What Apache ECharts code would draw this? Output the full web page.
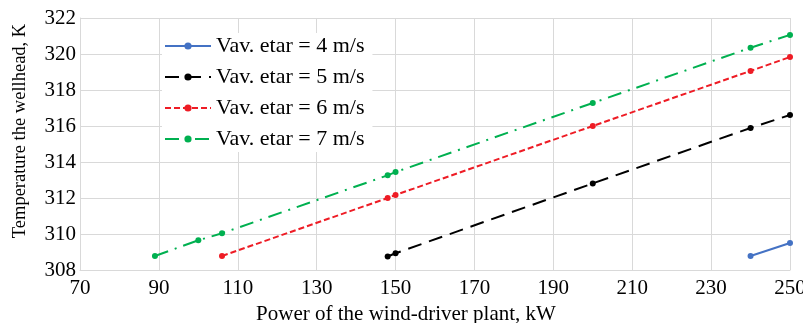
<!DOCTYPE html>
<html><head><meta charset="utf-8">
<script src="https://cdn.jsdelivr.net/npm/echarts@6/dist/echarts.min.js"></script>
<style>html,body{margin:0;padding:0;background:#fff}#c{width:803px;height:323px}</style>
</head><body><div id="c"></div>
<script>
const seriesNames = ["Vav. etar = 4 m/s","Vav. etar = 5 m/s","Vav. etar = 6 m/s","Vav. etar = 7 m/s"];
const power4 = [240, 250];
const temp4 = [308.78, 309.5];
const power5 = [148, 150, 200, 240, 250];
const temp5 = [308.75, 308.93, 312.81, 315.89, 316.61];
const power6 = [106, 148, 150, 200, 240, 250];
const temp6 = [308.78, 312.0, 312.17, 316.0, 319.06, 319.83];
const power7 = [89, 100, 106, 148, 150, 200, 240, 250];
const temp7 = [308.78, 309.65, 310.04, 313.26, 313.44, 317.28, 320.35, 321.06];
const xTicks = [70, 90, 110, 130, 150, 170, 190, 210, 230, 250];
const yTicks = [308, 310, 312, 314, 316, 318, 320, 322];

const zip = (xs, ys) => xs.map((x, i) => [x, ys[i]]);
const colors = ['#4472C4', '#000000', '#EE1C25', '#00B050'];
const dashes = ['solid', [14, 8], [6, 3], [14, 7, 2, 7]];
const datasets = [zip(power4,temp4), zip(power5,temp5), zip(power6,temp6), zip(power7,temp7)];
const font = '"Liberation Serif", "Times New Roman", serif';

const chart = echarts.init(document.getElementById('c'), null, {renderer: 'canvas'});
chart.setOption({
  animation: false,
  grid: {left: 80, right: 13, top: 18, bottom: 53, containLabel: false, outerBoundsMode: 'none'},
  legend: {
    orient: 'vertical', left: 162, top: 33,
    backgroundColor: '#ffffff', padding: [2, 8, 2, 2],
    itemWidth: 46, itemHeight: 9, itemGap: 9,
    textStyle: {fontFamily: font, fontSize: 22, color: '#000', lineHeight: 20},
    data: seriesNames
  },
  xAxis: {
    type: 'value', min: xTicks[0], max: xTicks[xTicks.length-1], interval: 20,
    name: 'Power of the wind-driver plant, kW', nameLocation: 'middle', nameGap: 28,
    nameTextStyle: {fontFamily: font, fontSize: 21, color: '#000', padding: [0, 58, 0, 0]},
    axisLine: {show: true, lineStyle: {color: '#d9d9d9'}},
    axisTick: {show: false},
    axisLabel: {fontFamily: font, fontSize: 21, color: '#000', margin: 8},
    splitLine: {show: true, lineStyle: {color: '#d9d9d9'}}
  },
  yAxis: {
    type: 'value', min: yTicks[0], max: yTicks[yTicks.length-1], interval: 2,
    name: 'Temperature the wellhead, K', nameLocation: 'middle', nameGap: 50,
    nameTextStyle: {fontFamily: font, fontSize: 18.5, color: '#000', padding: [0, 0, 0, 26]},
    axisLine: {show: true, lineStyle: {color: '#d9d9d9'}},
    axisTick: {show: false},
    axisLabel: {fontFamily: font, fontSize: 21, color: '#000', margin: 4},
    splitLine: {show: true, lineStyle: {color: '#d9d9d9'}}
  },
  series: seriesNames.map((n, i) => ({
    name: n, type: 'line', data: datasets[i],
    symbol: 'circle', symbolSize: 6, showSymbol: true,
    itemStyle: {color: colors[i]},
    lineStyle: {color: colors[i], width: 2, type: dashes[i]},
    z: 2 + i
  }))
});
</script></body></html>
